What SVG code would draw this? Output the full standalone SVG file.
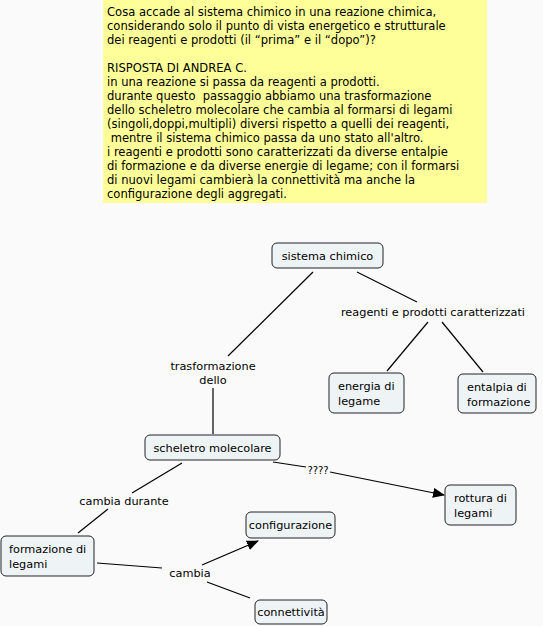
<svg xmlns="http://www.w3.org/2000/svg" width="543" height="626" viewBox="0 0 543 626">
<defs>
<marker id="arr" markerWidth="12" markerHeight="10" refX="11" refY="5" orient="auto" markerUnits="userSpaceOnUse">
<path d="M0,0 L12,5 L0,10 Z" fill="#000"/>
</marker>
</defs>
<style>
text{font-family:"DejaVu Sans","Liberation Sans",sans-serif;font-size:11.3px;fill:#000}
#note text{font-size:11.55px}
.n rect{fill:#eef3f6;stroke:#222;stroke-width:1}
.c line{stroke:#000;stroke-width:1.2}
.m{text-anchor:middle}
</style>
<rect x="0" y="0" width="543" height="626" fill="#fafafa"/>
<g id="note">
<rect x="103" y="0" width="384" height="203" fill="#ffff99"/>
<text x="107" y="16">Cosa accade al sistema chimico in una reazione chimica,</text>
<text x="107" y="30">considerando solo il punto di vista energetico e strutturale</text>
<text x="107" y="44">dei reagenti e prodotti (il “prima” e il “dopo”)?</text>
<text x="107" y="72">RISPOSTA DI ANDREA C.</text>
<text x="107" y="86">in una reazione si passa da reagenti a prodotti.</text>
<text x="107" y="100" xml:space="preserve">durante questo  passaggio abbiamo una trasformazione</text>
<text x="107" y="114">dello scheletro molecolare che cambia al formarsi di legami</text>
<text x="107" y="128">(singoli,doppi,multipli) diversi rispetto a quelli dei reagenti,</text>
<text x="107" y="142" xml:space="preserve"> mentre il sistema chimico passa da uno stato all'altro.</text>
<text x="107" y="156">i reagenti e prodotti sono caratterizzati da diverse entalpie</text>
<text x="107" y="170">di formazione e da diverse energie di legame; con il formarsi</text>
<text x="107" y="184">di nuovi legami cambierà la connettività ma anche la</text>
<text x="107" y="198">configurazione degli aggregati.</text>
</g>
<g id="connectors" class="c">
<line x1="313" y1="272" x2="228" y2="356"/>
<line x1="213" y1="388" x2="213" y2="434"/>
<line x1="357" y1="272" x2="417" y2="302"/>
<line x1="428" y1="322" x2="387" y2="371"/>
<line x1="442" y1="322" x2="483" y2="372"/>
<line x1="273" y1="462" x2="306" y2="467"/>
<line x1="330" y1="472" x2="444" y2="495" marker-end="url(#arr)"/>
<line x1="182" y1="463" x2="132" y2="493"/>
<line x1="108" y1="509" x2="78" y2="533"/>
<line x1="97" y1="563" x2="162" y2="568"/>
<line x1="202" y1="565" x2="258" y2="541" marker-end="url(#arr)"/>
<line x1="207" y1="582" x2="250" y2="598"/>
</g>
<g id="sistema-chimico" class="n"><rect x="272" y="243" width="111" height="25" rx="5"/><text class="m" x="327.5" y="260">sistema chimico</text></g>
<g id="reagenti-prodotti"><text class="m" x="433" y="316">reagenti e prodotti caratterizzati</text></g>
<g id="energia-legame" class="n"><rect x="329" y="373" width="75" height="40" rx="5"/><text x="338" y="390">energia di</text><text x="338" y="405">legame</text></g>
<g id="entalpia-formazione" class="n"><rect x="458" y="374" width="78" height="39" rx="5"/><text x="467" y="391">entalpia di</text><text x="467" y="406">formazione</text></g>
<g id="trasformazione"><text class="m" x="213" y="370">trasformazione</text><text class="m" x="213" y="384">dello</text></g>
<g id="scheletro" class="n"><rect x="145" y="435" width="135" height="25" rx="5"/><text class="m" x="212.5" y="452">scheletro molecolare</text></g>
<g id="qqqq"><text class="m" x="318" y="474" style="font-size:10px">????</text></g>
<g id="rottura" class="n"><rect x="445" y="485" width="71" height="40" rx="5"/><text x="454" y="502">rottura di</text><text x="454" y="517">legami</text></g>
<g id="cambia-durante"><text class="m" x="124" y="505">cambia durante</text></g>
<g id="configurazione" class="n"><rect x="246" y="512" width="89" height="26" rx="5"/><text class="m" x="290.5" y="529">configurazione</text></g>
<g id="formazione-legami" class="n"><rect x="1" y="536" width="93" height="40" rx="5"/><text x="9" y="553">formazione di</text><text x="9" y="568">legami</text></g>
<g id="cambia"><text class="m" x="190" y="577">cambia</text></g>
<g id="connettivita" class="n"><rect x="255" y="600" width="72" height="24" rx="5"/><text class="m" x="291" y="616">connettività</text></g>
</svg>
